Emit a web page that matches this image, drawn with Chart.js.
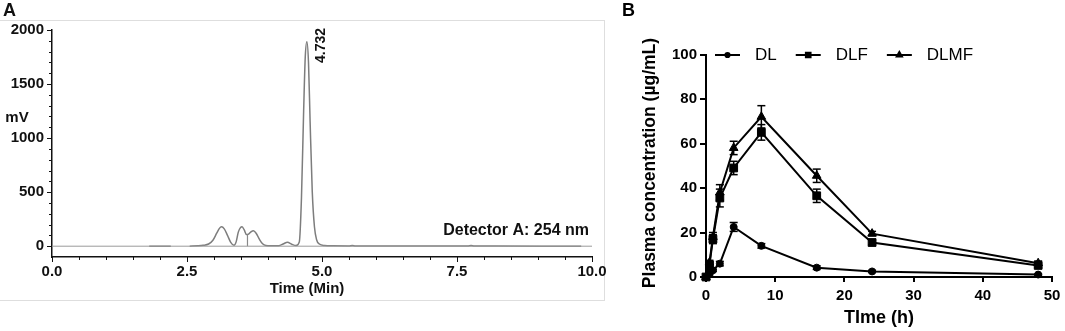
<!DOCTYPE html>
<html>
<head>
<meta charset="utf-8">
<script src="https://cdn.jsdelivr.net/npm/chart.js@4.4.1/dist/chart.umd.min.js"></script>
<style>
  html, body { margin: 0; padding: 0; background: #fff; }
  body { width: 1065px; height: 331px; position: relative; overflow: hidden; }
  #frameA { position: absolute; left: -1px; top: 20px; width: 606px; height: 281px; border: 1px solid #dedede; box-sizing: border-box; }
  #chartA { position: absolute; left: 0; top: 0; }
  #chartB { position: absolute; left: 605px; top: 0; }
</style>
</head>
<body>
<div id="frameA"></div>
<canvas id="chartA" width="615" height="310"></canvas>
<canvas id="chartB" width="460" height="331"></canvas>
<script>
// ---- Panel A: HPLC chromatogram (time in min, signal in mV)
const timeA = [1.80, 2.20, 2.40, 2.55, 2.70, 2.80, 2.90, 2.98, 3.05, 3.10, 3.14, 3.19, 3.25, 3.31,
  3.37, 3.41, 3.45, 3.49, 3.52, 3.56, 3.60, 3.64, 3.69, 3.73, 3.78, 3.84, 3.90, 3.96, 4.05, 4.20,
  4.28, 4.36, 4.44, 4.52, 4.58, 4.62, 4.66, 4.69, 4.72, 4.75, 4.78, 4.82, 4.86, 4.90, 4.95, 5.05,
  5.20, 5.50, 5.56, 5.62, 6.00, 7.70, 7.76, 7.82, 8.20, 9.80];
const signalA = [0, 0, null, 0, 3, 8, 20, 55, 120, 165, 179, 160, 100, 35,
  8, 40, 130, 172, 179, 150, 108, 112, 135, 142, 120, 65, 22, 6, 3, 4,
  20, 37, 18, 6, 40, 450, 1250, 1750, 1892, 1700, 1150, 500, 180, 60, 20, 6,
  3, 2, 6, 2, 1, 2, 6, 2, 1, 0];
const baselineT = [0, 10];
const baselineV = [0, 0];
const dropLineT = [3.62, 3.62];
const dropLineV = [0, 110];
const peakLabels = ["4.732"];
const peakTimes = [4.732];
const xTicksA = [0, 2.5, 5, 7.5, 10];
const yTicksA = [0, 500, 1000, 1500, 2000];

// ---- Panel B: plasma concentration vs time
const hours = [0, 0.5, 1, 2, 4, 8, 16, 24, 48];
const seriesNames = ["DL", "DLF", "DLMF"];
const dlMean = [0, 1.5, 3, 6, 22.5, 14, 4.2, 2.5, 1.1];
const dlErr = [0, 0.5, 0.5, 1, 2, 1, 0.8, 0.5, 0.3];
const dlfMean = [0, 5.5, 17, 35.5, 49, 65, 36.5, 15.5, 5.2];
const dlfErr = [0, 1, 2, 4, 3, 3.5, 3, 1, 1];
const dlmfMean = [0, 6.5, 18, 38, 58, 72, 45.5, 19.5, 6.2];
const dlmfErr = [0, 1, 2, 3.5, 3, 5, 3, 1, 1];
const xTicksB = [0, 10, 20, 30, 40, 50];
const yTicksB = [0, 20, 40, 60, 80, 100];

const FONT = "'Liberation Sans', Arial, sans-serif";
Chart.defaults.font.family = FONT;
Chart.defaults.color = "#000";

function toXY(xs, ys) {
  return xs.map((x, i) => ({ x: x, y: ys[i] }));
}

function line(ctx, x1, y1, x2, y2) {
  ctx.beginPath();
  ctx.moveTo(x1, y1);
  ctx.lineTo(x2, y2);
  ctx.stroke();
}

function text(ctx, str, x, y, font, align, rotation) {
  ctx.save();
  ctx.font = font;
  ctx.textAlign = align || "center";
  ctx.textBaseline = "middle";
  ctx.translate(x, y);
  if (rotation) ctx.rotate(rotation);
  ctx.fillText(str, 0, 0);
  ctx.restore();
}

// ticks, labels and annotations of the chromatogram
const chromDecor = {
  id: "chromDecor",
  afterDraw(chart) {
    const { ctx, chartArea, scales: { x, y } } = chart;
    ctx.save();
    ctx.strokeStyle = "#111";
    ctx.fillStyle = "#111";
    ctx.lineWidth = 1;
    for (let i = 0; i <= 20; i++) {
      const py = Math.round(y.getPixelForValue(i * 100)) + 0.5;
      const len = i % 5 === 0 ? 5 : 3;
      line(ctx, chartArea.left - len, py, chartArea.left, py);
    }
    for (let i = 0; i <= 20; i++) {
      const px = Math.round(x.getPixelForValue(i * 0.5)) + 0.5;
      const len = i % 5 === 0 ? 5 : 3;
      line(ctx, px, chartArea.bottom, px, chartArea.bottom + len);
    }

    text(ctx, "A", 3, 11, `bold 18px ${FONT}`, "left");
    text(ctx, "mV", 17, 118, `bold 15px ${FONT}`);
    text(ctx, "Time (Min)", (chartArea.left + chartArea.right) / 2 - 15, 289, `bold 15px ${FONT}`);
    ctx.save();
    ctx.font = `bold 16px ${FONT}`;
    ctx.textAlign = "right";
    ctx.textBaseline = "alphabetic";
    ctx.fillText("Detector A: 254 nm", chartArea.right - 3, y.getPixelForValue(0) - 11);
    ctx.restore();

    peakTimes.forEach((t, i) => {
      text(ctx, peakLabels[i], x.getPixelForValue(t) + 14, chartArea.top - 2,
        `bold 14px ${FONT}`, "right", -Math.PI / 2);
    });
    ctx.restore();
  }
};

new Chart(document.getElementById("chartA"), {
  type: "line",
  data: {
    datasets: [
      { data: toXY(baselineT, baselineV), borderColor: "#9a9a9a", borderWidth: 1, pointRadius: 0 },
      { data: toXY(dropLineT, dropLineV), borderColor: "#888", borderWidth: 1.2, pointRadius: 0 },
      {
        data: toXY(timeA, signalA),
        borderColor: "#7d7d7d",
        borderWidth: 1.5,
        pointRadius: 0,
        cubicInterpolationMode: "monotone",
        spanGaps: false,
      },
    ],
  },
  options: {
    responsive: false,
    animation: false,
    layout: { padding: { top: 30, right: 23, left: 0, bottom: 0 } },
    plugins: { legend: { display: false }, tooltip: { enabled: false } },
    scales: {
      x: {
        type: "linear",
        min: 0,
        max: 10,
        grid: { display: false, drawTicks: false },
        border: { color: "#111", width: 1.5 },
        afterBuildTicks: (s) => { s.ticks = xTicksA.map((v) => ({ value: v })); },
        ticks: {
          font: { size: 15, weight: "bold" },
          color: "#111",
          padding: 6,
          maxRotation: 0,
          callback: (v) => Number(v).toFixed(1),
        },
        afterFit: (s) => { s.height = 53; s.paddingLeft = 0; s.paddingRight = 0; },
      },
      y: {
        min: -100,
        max: 2000,
        grid: { display: false, drawTicks: false },
        border: { color: "#111", width: 1.5 },
        afterBuildTicks: (s) => { s.ticks = yTicksA.map((v) => ({ value: v })); },
        ticks: { font: { size: 15, weight: "bold" }, color: "#111", padding: 8, callback: (v) => String(v) },
        afterFit: (s) => { s.width = 52; },
      },
    },
  },
  plugins: [chromDecor],
});

// error bars, ticks, legend and titles of the PK plot
const pkDecor = {
  id: "pkDecor",
  beforeDatasetsDraw(chart) {
    const { ctx, scales: { x, y } } = chart;
    ctx.save();
    ctx.strokeStyle = "#000";
    ctx.lineWidth = 1.5;
    chart.data.datasets.forEach((ds) => {
      ds.data.forEach((p, i) => {
        const e = ds.errors[i];
        if (!e) return;
        const px = x.getPixelForValue(p.x);
        const top = y.getPixelForValue(p.y + e);
        const bot = y.getPixelForValue(Math.max(p.y - e, 0));
        line(ctx, px, top, px, bot);
        line(ctx, px - 4, top, px + 4, top);
        line(ctx, px - 4, bot, px + 4, bot);
      });
    });
    ctx.restore();
  },
  afterDraw(chart) {
    const { ctx, chartArea, scales: { x, y } } = chart;
    ctx.save();
    ctx.strokeStyle = "#000";
    ctx.fillStyle = "#000";
    ctx.lineWidth = 2;
    yTicksB.forEach((v) => {
      const py = Math.round(y.getPixelForValue(v));
      line(ctx, chartArea.left - 6, py, chartArea.left, py);
    });
    xTicksB.forEach((v) => {
      const px = Math.round(x.getPixelForValue(v));
      line(ctx, px, chartArea.bottom, px, chartArea.bottom + 5);
    });

    // legend: line with marker, then label
    let lx = chartArea.left + 9;
    const ly = y.getPixelForValue(100) + 0.5;
    ctx.font = `17px ${FONT}`;
    chart.data.datasets.forEach((ds) => {
      ctx.lineWidth = 2;
      line(ctx, lx, ly, lx + 25, ly);
      Chart.helpers.drawPoint(ctx, { pointStyle: ds.pointStyle, radius: ds.pointRadius * 0.6, borderWidth: 1 }, lx + 12.5, ly);
      ctx.fill();
      lx += 40;
      ctx.textAlign = "left";
      ctx.textBaseline = "middle";
      ctx.fillText(ds.label, lx, ly);
      lx += ctx.measureText(ds.label).width + 19;
    });

    text(ctx, "B", 17, 11, `bold 18px ${FONT}`, "left");
    text(ctx, "Plasma concentration (\u00b5g/mL)", 45, 163, `bold 17.5px ${FONT}`, "center", -Math.PI / 2);
    text(ctx, "TIme (h)", (chartArea.left + chartArea.right) / 2, 318, `bold 18px ${FONT}`);
    ctx.restore();
  },
};

function pkDataset(name, mean, err, style, radius) {
  return {
    label: name,
    data: toXY(hours, mean),
    errors: err,
    borderColor: "#000",
    borderWidth: 2,
    pointStyle: style,
    pointRadius: radius,
    pointBackgroundColor: "#000",
    pointBorderColor: "#000",
    pointBorderWidth: 1,
    clip: false,
  };
}

new Chart(document.getElementById("chartB"), {
  type: "line",
  data: {
    datasets: [
      pkDataset(seriesNames[0], dlMean, dlErr, "circle", 3.5),
      pkDataset(seriesNames[1], dlfMean, dlfErr, "rect", 5.5),
      pkDataset(seriesNames[2], dlmfMean, dlmfErr, "triangle", 5),
    ],
  },
  options: {
    responsive: false,
    animation: false,
    layout: { padding: { top: 54.5, right: 13, left: 0, bottom: 0 } },
    plugins: { legend: { display: false }, tooltip: { enabled: false } },
    scales: {
      x: {
        type: "linear",
        min: 0,
        max: 50,
        grid: { display: false, drawTicks: false },
        border: { color: "#000", width: 2 },
        afterBuildTicks: (s) => { s.ticks = xTicksB.map((v) => ({ value: v })); },
        ticks: { font: { size: 15, weight: "bold" }, padding: 10, maxRotation: 0 },
        afterFit: (s) => { s.height = 54; s.paddingLeft = 0; s.paddingRight = 0; },
      },
      y: {
        min: 0,
        max: 100,
        grid: { display: false, drawTicks: false },
        border: { color: "#000", width: 2 },
        afterBuildTicks: (s) => { s.ticks = yTicksB.map((v) => ({ value: v })); },
        ticks: { font: { size: 15, weight: "bold" }, padding: 9 },
        afterFit: (s) => { s.width = 101; },
      },
    },
  },
  plugins: [pkDecor],
});
</script>
</body>
</html>
